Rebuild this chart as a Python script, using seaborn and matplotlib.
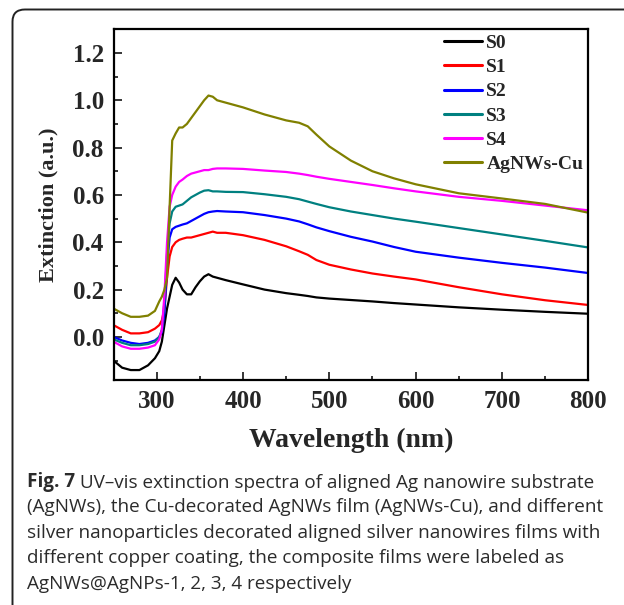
import numpy as np
import pandas as pd
import seaborn as sns
import matplotlib.pyplot as plt
from matplotlib.patches import FancyBboxPatch
from matplotlib.ticker import MultipleLocator

sns.set_style("white")
plt.rcParams["font.family"] = ["Liberation Serif", "DejaVu Serif"]

# wavelength grid (nm)
wavelength = [250, 260, 270, 280, 290, 298, 303, 306, 309, 312, 315, 318, 322, 326,
              330, 335, 340, 345, 350, 355, 360, 365, 370, 380, 400, 425, 450, 465,
              475, 485, 500, 525, 550, 575, 600, 650, 700, 750, 800]

s0 = [-0.10, -0.13, -0.14, -0.14, -0.12, -0.09, -0.06, -0.02, 0.05, 0.12, 0.17, 0.22,
      0.25, 0.23, 0.20, 0.18, 0.18, 0.21, 0.235, 0.255, 0.265, 0.255, 0.25, 0.24,
      0.222, 0.2, 0.185, 0.178, 0.173, 0.167, 0.162, 0.156, 0.15, 0.143, 0.137,
      0.125, 0.115, 0.106, 0.098]
s1 = [0.05, 0.03, 0.015, 0.015, 0.02, 0.035, 0.05, 0.07, 0.12, 0.25, 0.34, 0.38,
      0.40, 0.41, 0.415, 0.42, 0.42, 0.425, 0.43, 0.435, 0.44, 0.445, 0.44, 0.44,
      0.43, 0.41, 0.383, 0.362, 0.347, 0.325, 0.305, 0.285, 0.268, 0.255, 0.243,
      0.21, 0.18, 0.155, 0.135]
s2 = [0.0, -0.015, -0.025, -0.03, -0.025, -0.015, 0.0, 0.02, 0.10, 0.30, 0.42, 0.455,
      0.465, 0.47, 0.475, 0.48, 0.49, 0.50, 0.51, 0.52, 0.527, 0.53, 0.532, 0.53,
      0.527, 0.515, 0.5, 0.488, 0.476, 0.463, 0.447, 0.423, 0.403, 0.38, 0.36,
      0.335, 0.313, 0.293, 0.27]
s3 = [-0.01, -0.025, -0.035, -0.035, -0.03, -0.02, 0.0, 0.03, 0.15, 0.35, 0.48, 0.53,
      0.55, 0.555, 0.56, 0.575, 0.59, 0.60, 0.61, 0.618, 0.62, 0.615, 0.615, 0.613,
      0.612, 0.603, 0.592, 0.582, 0.572, 0.562, 0.548, 0.53, 0.515, 0.50, 0.487,
      0.46, 0.433, 0.406, 0.378]
s4 = [-0.02, -0.04, -0.05, -0.05, -0.045, -0.035, -0.01, 0.03, 0.18, 0.40, 0.55, 0.60,
      0.635, 0.655, 0.665, 0.68, 0.69, 0.695, 0.70, 0.705, 0.705, 0.71, 0.712, 0.712,
      0.71, 0.703, 0.697, 0.69, 0.684, 0.677, 0.668, 0.655, 0.642, 0.628, 0.615,
      0.592, 0.575, 0.555, 0.535]
agnws_cu = [0.12, 0.10, 0.085, 0.085, 0.09, 0.11, 0.15, 0.17, 0.20, 0.25, 0.55, 0.83,
            0.86, 0.885, 0.885, 0.90, 0.925, 0.95, 0.975, 1.0, 1.02, 1.015, 1.0, 0.99,
            0.97, 0.94, 0.915, 0.905, 0.89, 0.855, 0.805, 0.745, 0.70, 0.67, 0.645,
            0.607, 0.585, 0.562, 0.525]

labels = ["S0", "S1", "S2", "S3", "S4", "AgNWs-Cu"]
colors = ["#000000", "#ff0000", "#0000ff", "#008080", "#ff00ff", "#808000"]

df = pd.DataFrame({"Wavelength": wavelength, "S0": s0, "S1": s1, "S2": s2,
                   "S3": s3, "S4": s4, "AgNWs-Cu": agnws_cu})
long_df = df.melt(id_vars="Wavelength", var_name="sample", value_name="Extinction")

fig = plt.figure(figsize=(6.24, 6.05), dpi=100)
ax = fig.add_axes([0.1819, 0.3719, 0.7609, 0.5797])

sns.lineplot(data=long_df, x="Wavelength", y="Extinction", hue="sample",
             hue_order=labels, palette=colors, linewidth=1.6, ax=ax)

ax.set_xlim(250, 800)
ax.set_ylim(-0.182, 1.30)
ax.xaxis.set_minor_locator(MultipleLocator(50))
ax.yaxis.set_minor_locator(MultipleLocator(0.1))
ax.set_yticks([0.0, 0.2, 0.4, 0.6, 0.8, 1.0, 1.2])
ax.set_xticks([300, 400, 500, 600, 700, 800])
ax.tick_params(which="major", direction="in", length=6, width=1.3,
               labelsize=18, pad=7, bottom=True, left=True, top=False, right=False)
ax.tick_params(which="minor", direction="in", length=3, width=1.3,
               bottom=True, left=True, top=False, right=False)
for lab in ax.get_xticklabels() + ax.get_yticklabels():
    lab.set_fontweight("bold")
for sp in ax.spines.values():
    sp.set_linewidth(1.6)
    sp.set_color("black")

ax.set_xlabel("Wavelength (nm)", fontsize=20, fontweight="bold", labelpad=11)
ax.set_ylabel("Extinction (a.u.)", fontsize=16, fontweight="bold", labelpad=10)

leg = ax.legend(loc="upper right", frameon=False, handlelength=2.0,
                handletextpad=0.2, labelspacing=0.34, borderaxespad=0.0,
                bbox_to_anchor=(1.006, 1.008), prop={"weight": "bold", "size": 14})
for line in leg.get_lines():
    line.set_linewidth(2.2)

# outer frame
frame = FancyBboxPatch((12.5 / 624, -20 / 605), 700 / 624, (605 - 9.5 + 20) / 605,
                       boxstyle="round,pad=0,rounding_size=0.02",
                       transform=fig.transFigure, fill=False, lw=1.4,
                       ec="#222222", clip_on=False)
fig.patches.append(frame)

caption = ["UV\u2013vis extinction spectra of aligned Ag nanowire substrate",
           "(AgNWs), the Cu-decorated AgNWs film (AgNWs-Cu), and different",
           "silver nanoparticles decorated aligned silver nanowires films with",
           "different copper coating, the composite films were labeled as",
           "AgNWs@AgNPs-1, 2, 3, 4 respectively"]
cap_font = ["Open Sans", "DejaVu Sans"]
cap_color = "#2b2b2b"
cap_size = 13.6
y0 = 1 - 486.5 / 605
step = 25.6 / 605
t = fig.text(27 / 624, y0, "Fig. 7", family=cap_font, fontweight="bold",
             fontsize=cap_size, color=cap_color, va="baseline", ha="left")
ax.annotate(" " + caption[0], xy=(1, 0), xycoords=t, family=cap_font,
            fontsize=cap_size, color=cap_color, va="bottom", ha="left",
            annotation_clip=False)
for i, line in enumerate(caption[1:], start=1):
    fig.text(27 / 624, y0 - i * step, line, family=cap_font, fontsize=cap_size,
             color=cap_color, va="baseline", ha="left")

fig.savefig("out.png", dpi=100)
